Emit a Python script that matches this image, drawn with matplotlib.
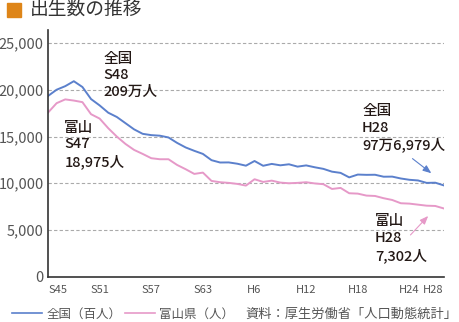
import numpy as np
import matplotlib
matplotlib.use('Agg')
from matplotlib import pyplot
from matplotlib.lines import Line2D
from matplotlib.patches import Rectangle
from matplotlib.ticker import FuncFormatter

pyplot.rcParams['font.family'] = ['Noto Sans CJK JP', 'DejaVu Sans']

# births per year, S45 (1970) .. H28 (2016)
years = np.arange(1970, 2017)
# national, in hundreds
zenkoku = [19340, 20010, 20390, 20920, 20300, 19010, 18330, 17550, 17090, 16430,
           15770, 15290, 15150, 15090, 14900, 14320, 13830, 13470, 13140, 12470,
           12220, 12230, 12090, 11880, 12380, 11870, 12070, 11920, 12030, 11780,
           11910, 11710, 11540, 11240, 11110, 10630, 10930, 10900, 10910, 10700,
           10710, 10510, 10370, 10300, 10040, 10060, 9770]
# Toyama prefecture, persons
toyama = [17560, 18570, 18975, 18850, 18680, 17390, 16920, 15890, 14990, 14210,
          13570, 13140, 12680, 12570, 12570, 11960, 11500, 11000, 11140, 10250,
          10110, 10040, 9930, 9750, 10430, 10140, 10280, 10070, 10000, 10040,
          10110, 9980, 9900, 9390, 9500, 8930, 8890, 8680, 8640, 8400,
          8210, 7860, 7820, 7710, 7600, 7570, 7302]

tick_years = [1970, 1976, 1982, 1988, 1994, 2000, 2006, 2012, 2016]
tick_labels = ['S45', 'S51', 'S57', 'S63', 'H6', 'H12', 'H18', 'H24', 'H28']

blue = '#5b80cc'
pink = '#e699c8'
grey = '#555555'
dark = '#231815'

fig = pyplot.figure(figsize=(4.59, 3.22), dpi=100)
ax = fig.add_axes([0.1046, 0.1407, 0.8624, 0.7661])

ax.plot(years, zenkoku, color=blue, lw=1.4)
ax.plot(years, toyama, color=pink, lw=1.4)

ax.set_xlim(1970, 2016)
ax.set_ylim(0, 26400)
ax.set_yticks(np.arange(0, 25001, 5000))
ax.yaxis.set_major_formatter(FuncFormatter(lambda v, p: '{:,}'.format(int(v))))
ax.set_xticks(tick_years)
ax.set_xticklabels(tick_labels)
ax.tick_params(axis='y', length=0, labelsize=10.5, labelcolor=grey, pad=3)
ax.tick_params(axis='x', length=0, labelsize=8, labelcolor=grey, pad=6)
xl = ax.get_xticklabels()
xl[0].set_ha('left')
xl[-1].set_ha('right')
for g in np.arange(5000, 25001, 5000):
	ax.axhline(g, color='#aaaaaa', lw=0.8, ls=(0, (3, 2)), zorder=0)
for s in ['top', 'right']:
	ax.spines[s].set_visible(False)
for s in ['left', 'bottom']:
	ax.spines[s].set_color('#333333')
	ax.spines[s].set_linewidth(1.2)

# annotations
ann = dict(color=dark, fontsize=10.5, va='top', ha='left', linespacing=1.25, fontweight='medium')
ax.text(1976.4, 24100, '全国\nS48\n209万人', **ann)
ax.text(1971.9, 16700, '富山\nS47\n18,975人', **ann)
ax.text(2006.5, 18500, '全国\nH28\n97万6,979人', **ann)
ax.text(2008.0, 6700, '富山\nH28\n7,302人', **ann)
ax.annotate('', xy=(2014.8, 10890), xytext=(2012.1, 12820),
            arrowprops=dict(arrowstyle='-|>,head_length=0.5,head_width=0.2', color=blue, lw=0.8))
ax.annotate('', xy=(2014.4, 6715), xytext=(2011.9, 4250),
            arrowprops=dict(arrowstyle='-|>,head_length=0.5,head_width=0.2', color=pink, lw=0.8))

# title
fig.patches.append(Rectangle((7/459, 1-17/322), 14/459, 14/322, transform=fig.transFigure,
                             color='#de8518', figure=fig))
fig.text(30/459, 1-10/322, '出生数の推移', fontsize=13.5, color='#333333', va='center', ha='left')

# legend and source
handles = [Line2D([], [], color=blue, lw=1.2), Line2D([], [], color=pink, lw=1.2)]
fig.legend(handles, ['全国（百人）', '富山県（人）'], loc='center left',
           bbox_to_anchor=(12/459, 1-314/322), ncol=2, frameon=False, fontsize=9,
           handlelength=2.4, handletextpad=0.4, columnspacing=0.2, labelcolor=grey,
           borderaxespad=0, borderpad=0)
fig.text(457/459, 1-314/322, '資料：厚生労働省「人口動態統計」', fontsize=9.5, color=grey,
         va='center', ha='right')

pyplot.savefig('out.png', dpi=100)
